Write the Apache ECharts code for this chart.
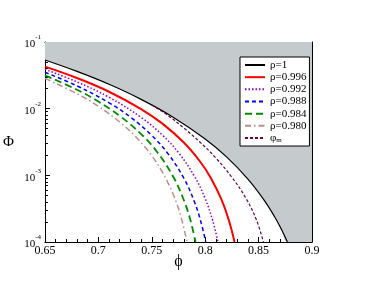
<!DOCTYPE html>
<html><head><meta charset="utf-8">
<script src="https://cdn.jsdelivr.net/npm/echarts@6/dist/echarts.min.js"></script>
<style>html,body{margin:0;padding:0;background:#fff}#c{width:367px;height:284px}</style>
</head><body><div id="c"></div>
<script>
// ---- data ----
const seriesNames = ['ρ=1', 'ρ=0.996', 'ρ=0.992', 'ρ=0.988', 'ρ=0.984', 'ρ=0.980', 'φm'];
const xMin = 0.65, xMax = 0.9, xStep = 0.05;
const yMin = 1e-4, yMax = 1e-1;
const yMinorTicks = [2e-4,3e-4,4e-4,5e-4,6e-4,7e-4,8e-4,9e-4,2e-3,3e-3,4e-3,5e-3,6e-3,7e-3,8e-3,9e-3,2e-2,3e-2,4e-2,5e-2,6e-2,7e-2,8e-2,9e-2];

const phiRho1 = [0.65, 0.68, 0.71, 0.74, 0.77, 0.80, 0.82, 0.84, 0.855, 0.865, 0.872, 0.877];
const valRho1 = [0.0537, 0.0362, 0.0232, 0.0138, 0.00746, 0.00351, 0.00189, 0.000879, 0.000429, 0.000239, 0.000148, 0.0001];

const phiRho996 = [0.65, 0.68, 0.71, 0.74, 0.76, 0.78, 0.795, 0.805, 0.815, 0.822, 0.8275];
const valRho996 = [0.0427, 0.0288, 0.01795, 0.00986, 0.00596, 0.0031, 0.001626, 0.000929, 0.000442, 0.000216, 0.0001];

const phiRho992 = [0.65, 0.68, 0.71, 0.74, 0.76, 0.775, 0.79, 0.80, 0.807, 0.812];
const valRho992 = [0.0389, 0.0252, 0.01483, 0.0074, 0.0040, 0.00219, 0.000966, 0.000447, 0.00021, 0.0001];

const phiRho988 = [0.65, 0.68, 0.71, 0.73, 0.75, 0.765, 0.78, 0.79, 0.796, 0.8005];
const valRho988 = [0.0351, 0.02198, 0.01225, 0.00746, 0.00396, 0.00213, 0.000906, 0.000398, 0.0002, 0.0001];

const phiRho984 = [0.65, 0.68, 0.70, 0.72, 0.74, 0.755, 0.77, 0.78, 0.786, 0.791];
const valRho984 = [0.0316, 0.0192, 0.0128, 0.0078, 0.00416, 0.00224, 0.00096, 0.000426, 0.000217, 0.0001];

const phiRho980 = [0.65, 0.68, 0.70, 0.72, 0.735, 0.75, 0.76, 0.77, 0.777, 0.783];
const valRho980 = [0.0285, 0.01675, 0.01084, 0.00631, 0.00378, 0.00197, 0.00111, 0.00052, 0.000248, 0.0001];

const phiM = [0.75, 0.765, 0.78, 0.795, 0.81, 0.825, 0.838, 0.848, 0.8545];
const valM = [0.01138, 0.00794, 0.00513, 0.00316, 0.00182, 0.000933, 0.000457, 0.000214, 0.0001];

// ---- build ----
const zip = (xs, ys) => xs.map((x, i) => [x, ys[i]]);
const FONT = '"Liberation Serif", "DejaVu Serif", serif';
const colors = ['#000000', '#ff0000', '#9400d3', '#0000ff', '#008b00', '#bc8f8f', '#670748'];
const widths = [1.2, 2, 1.5, 1.5, 1.8, 1.5, 1.2];
const types = ['solid', 'solid', [1.5, 2], [4, 3], [7, 4], [6, 3, 1.5, 3], [3, 2]];
const datasets = [
  zip(phiRho1, valRho1), zip(phiRho996, valRho996), zip(phiRho992, valRho992),
  zip(phiRho988, valRho988), zip(phiRho984, valRho984), zip(phiRho980, valRho980),
  zip(phiM, valM)
];
const SMOOTH = 0.4;

const fillData = zip(phiRho1, valRho1).concat([[xMax, yMin]]);

const series = [{
  name: 'fill', type: 'line', data: fillData, symbol: 'none', silent: true,
  smooth: SMOOTH,
  lineStyle: { width: 0 }, areaStyle: { color: '#c5cacd', opacity: 1, origin: 'end' }, z: 1
}];
seriesNames.forEach((n, i) => {
  series.push({
    name: n, type: 'line', data: datasets[i], symbol: 'none', smooth: SMOOTH,
    lineStyle: { color: colors[i], width: widths[i], type: types[i] },
    itemStyle: { color: colors[i] }, z: 3
  });
});

const xCommon = {
  type: 'value', min: xMin, max: xMax, interval: xStep,
  axisLine: { show: true, lineStyle: { color: '#000', width: 1 } },
  axisTick: { show: true, inside: true, length: 5, lineStyle: { color: '#000' } },
  minorTick: { show: true, splitNumber: 5, length: 3, lineStyle: { color: '#000' } },
  splitLine: { show: false }
};
const yCommon = {
  type: 'log', logBase: 10, min: yMin, max: yMax,
  axisLine: { show: true, lineStyle: { color: '#000', width: 1 } },
  splitLine: { show: false }, minorSplitLine: { show: false }
};

const chart = echarts.init(document.getElementById('c'), null, { renderer: 'canvas' });
chart.setOption({
  backgroundColor: '#fff',
  animation: false,
  grid: { left: 43, right: 55, top: 42, bottom: 42, containLabel: false },
  xAxis: [
    Object.assign({}, xCommon, {
      position: 'bottom',
      name: 'ϕ', nameLocation: 'middle', nameGap: 12, nameMoveOverlap: false,
      nameTextStyle: { fontFamily: FONT, fontSize: 16, color: '#000' },
      axisLabel: { show: true, margin: 3, fontFamily: FONT, fontSize: 12, color: '#000',
        formatter: v => String(+v.toFixed(2)) }
    }),
    Object.assign({}, xCommon, { position: 'top', axisLabel: { show: false } })
  ],
  yAxis: [
    Object.assign({}, yCommon, {
      position: 'left',
      name: 'Φ', nameLocation: 'middle', nameGap: 31, nameRotate: 0, nameMoveOverlap: false,
      nameTextStyle: { fontFamily: FONT, fontSize: 15, color: '#000' },
      axisTick: { show: true, inside: true, length: 5, lineStyle: { color: '#000' } },
      axisLabel: {
        show: true, margin: 4, color: '#000',
        formatter: v => '{b|10}{s|' + Math.round(Math.log10(v)) + '}',
        rich: {
          b: { fontFamily: FONT, fontSize: 11, lineHeight: 16, verticalAlign: 'bottom', color: '#000' },
          s: { fontFamily: FONT, fontSize: 7, lineHeight: 12, verticalAlign: 'top', color: '#000' }
        }
      }
    }),
    Object.assign({}, yCommon, {
      position: 'left', axisLine: { show: false }, axisLabel: { show: false },
      axisTick: { show: true, inside: true, length: 3, customValues: yMinorTicks, lineStyle: { color: '#000' } }
    }),
    Object.assign({}, yCommon, {
      position: 'right', axisLabel: { show: false },
      axisTick: { show: true, inside: true, length: 5, lineStyle: { color: '#000' } }
    }),
    Object.assign({}, yCommon, {
      position: 'right', axisLine: { show: false }, axisLabel: { show: false },
      axisTick: { show: true, inside: true, length: 3, customValues: yMinorTicks, lineStyle: { color: '#000' } }
    })
  ],
  legend: {
    data: seriesNames, orient: 'vertical', left: 240, top: 57,
    backgroundColor: '#fff', borderColor: '#000', borderWidth: 1, borderRadius: 0,
    padding: [2, 3, 2, 4], itemWidth: 20, itemHeight: 12, itemGap: 0.17,
    itemStyle: { opacity: 0 },
    textStyle: {
      fontFamily: FONT, fontSize: 11, lineHeight: 12, color: '#000',
      rich: {
        p: { fontFamily: FONT, fontSize: 11, lineHeight: 12, color: '#000' },
        m: { fontFamily: FONT, fontSize: 7, color: '#000', verticalAlign: 'bottom', lineHeight: 12 }
      }
    },
    formatter: n => n === 'φm' ? '{p|φ}{m|m}' : n
  },
  series: series
});
</script></body></html>
